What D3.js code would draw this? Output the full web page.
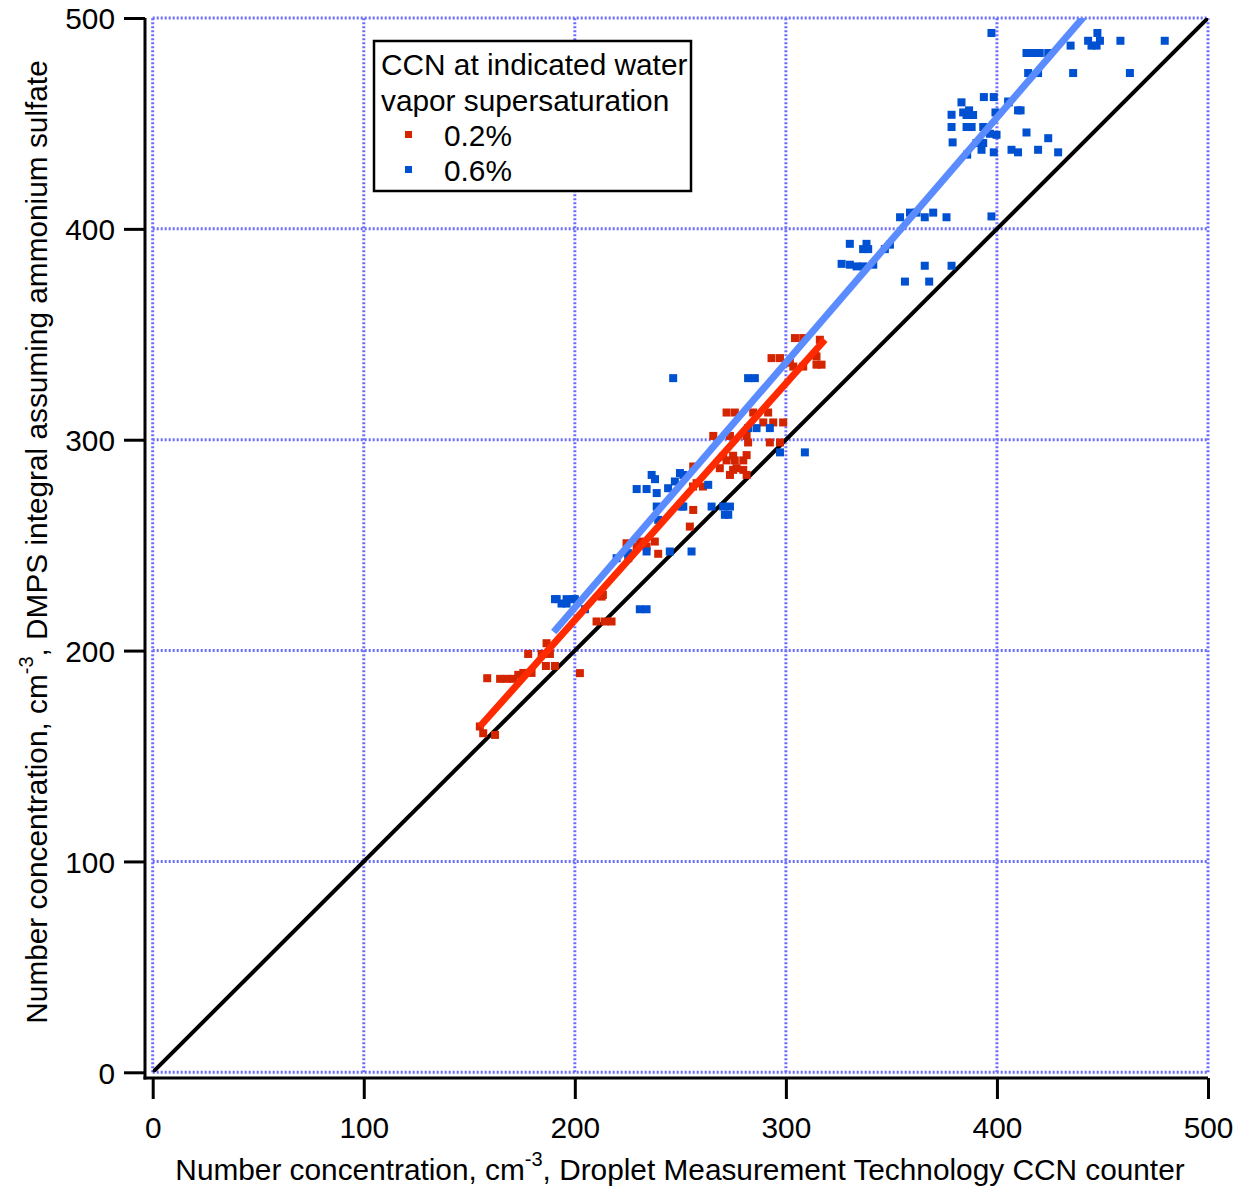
<!DOCTYPE html>
<html>
<head>
<meta charset="utf-8">
<script src="https://cdn.jsdelivr.net/npm/d3@7"></script>
<style>
    body { margin: 0; background: #fff; }
    svg text { font-family: "Liberation Sans", Arial, sans-serif; fill: #000; }
</style>
</head>
<body>
<div id="chart-area"><svg></svg></div>
<script>
const chartSize = { width: 1235, height: 1188 };
const plot = { left: 152.7, right: 1208, top: 18, bottom: 1072.3 };
const fontSize = 29.8;

const ticks = [0, 100, 200, 300, 400, 500];

// CCN at 0.2% supersaturation
const redX = [158.5, 164.6, 167.8, 170.8, 173.2, 175.6, 179.5, 177.9, 186.6, 184.3, 188.2, 186.3, 190.6,
    202.4, 155, 156.6, 162.2, 210.3, 214.3, 213.3, 212.7, 217.4, 224.5, 230.8, 237.9, 239.5, 229.3, 234,
    256.1, 256.1, 254.5, 257.7, 304.3, 308.2, 316.1, 293.2, 297.2, 301.9, 303.5, 308.2, 314.5, 316.9,
    313.7, 314.5, 271.9, 275.8, 284.5, 291.6, 289.3, 294, 298.7, 265.6, 273.5, 281.4, 282.1, 292.4,
    297.2, 270.3, 275, 281.4, 271.9, 275.8, 279.8, 268.7, 275, 279.8, 273.5, 281.4, 260.7, 256, 276.6];
const redY = [186.9, 186.6, 186.6, 186.6, 188.5, 189.4, 189.4, 198.4, 203.5, 198.4, 198.4, 192.7, 192.7,
    189.3, 164, 160.8, 160, 213.8, 213.8, 226.4, 225.6, 213.8, 250.9, 251.7, 251.7, 245.9, 249.3, 249.3,
    287.3, 266.7, 258.8, 279.4, 348.2, 348.2, 347.4, 338.7, 338.7, 336.5, 334.7, 334.7, 335.6, 335.6,
    340.3, 339.5, 312.9, 312.9, 312.9, 312.9, 308.2, 308.2, 308.2, 301.8, 301.8, 301.8, 298.7, 298.7,
    298.7, 292, 292.4, 292.7, 290.2, 290.2, 290.2, 286.5, 285.7, 285.7, 283.3, 283.3, 277.8, 277.8, 286.5];

// CCN at 0.6% supersaturation
const blueX = [190.6, 196.1, 199.3, 193.7, 196.1, 204.8, 191.4, 200, 230.8, 234, 219.8, 225.3, 225.3,
    234, 245, 255.3, 229.3, 234, 236.4, 238, 238.8, 244.2, 247.4, 251.4, 238.8, 239.5, 250.6, 246.6,
    282.1, 285.3, 282.1, 286.1, 292.4, 297.2, 309, 263.2, 251.4, 264.8, 270.3, 273.5, 271.1, 272.7,
    249.8, 354.1, 358.8, 361.9, 365.8, 369.8, 376.1, 330.3, 338.2, 336.6, 339, 346.9, 349.3, 326.4,
    330.3, 333.5, 336.6, 341.4, 365.8, 378.5, 356.4, 367.9, 393.8, 398.5, 383.2, 384, 386.8, 388.7,
    385.6, 378.5, 399.3, 405.6, 410, 411.2, 378.5, 385.6, 388, 393.5, 396.7, 399.8, 414, 424.3, 379,
    390.3, 393.5, 392.7, 385.9, 398.5, 406.9, 410, 419.5, 429, 447.6, 443.2, 448.8, 444.8, 447.2,
    458.5, 479.5, 434.9, 414, 417.2, 420.3, 424.3, 414.8, 419.5, 436.1, 463, 405.3, 397.4, 397.4];
const blueY = [224.4, 224.4, 224.4, 222.3, 222.3, 219.6, 224.4, 224.4, 219.6, 219.6, 243.8, 243.8, 246.2,
    247, 247, 247, 276.6, 276.6, 283.3, 281.3, 274.7, 277, 280.2, 283.3, 268.3, 262, 268.3, 329.2,
    329.2, 329.2, 305.5, 305.5, 305.5, 294, 294, 278.6, 268.3, 268.3, 268.3, 268.3, 264.4, 264.4,
    284.2, 405.5, 407.7, 407.7, 405.5, 407.7, 405.5, 392.9, 392.9, 390.4, 390.4, 390.4, 392.5, 383.4,
    383, 382.2, 382.2, 383, 382.5, 382.5, 375, 375, 462.5, 462.5, 460, 455.2, 456.2, 454,
    454, 454.1, 455.2, 460, 456.2, 456.2, 448.3, 448.3, 448.3, 448.3, 445.1, 444.6, 445.7, 443, 441,
    440.7, 440.7, 437.5, 435.2, 436.3, 437.5, 436.3, 437.5, 436.3, 492.9, 489.2, 489.2, 486.9, 486.9,
    489.2, 489.2, 486.9, 483.4, 483.4, 483.4, 483.4, 473.9, 473.9, 473.9, 473.9, 460.4, 492.9, 405.9];

// fitted lines and the 1:1 line (x, y pairs)
const redFitX = [155, 318.5];
const redFitY = [164, 347.4];
const blueFitX = [190, 480];
const blueFitY = [208.8, 545.7];
const oneToOneX = [0, 500];
const oneToOneY = [0, 500];

const legendTitle = ["CCN at indicated water", "vapor supersaturation"];
const legendLabels = ["0.2%", "0.6%"];

const col = {
    red: "#d42400", redLine: "#ff2a00",
    blue: "#0050d2", blueLine: "#5a8cff",
    grid: "#6c6cff"
};

const svg = d3.select("#chart-area svg")
    .attr("width", chartSize.width)
    .attr("height", chartSize.height);

const x = d3.scaleLinear().domain([0, 500]).range([plot.left, plot.right]);
const y = d3.scaleLinear().domain([0, 500]).range([plot.bottom, plot.top]);

svg.append("defs").append("clipPath").attr("id", "clip")
    .append("rect")
    .attr("x", plot.left).attr("y", plot.top)
    .attr("width", plot.right - plot.left).attr("height", plot.bottom - plot.top);

// grid
const grid = svg.append("g").attr("class", "grid");
grid.selectAll(".gx").data(ticks).enter().append("line")
    .attr("x1", d => x(d)).attr("x2", d => x(d))
    .attr("y1", y(0)).attr("y2", y(500));
grid.selectAll(".gy").data(ticks).enter().append("line")
    .attr("y1", d => y(d)).attr("y2", d => y(d))
    .attr("x1", x(0)).attr("x2", x(500));
grid.selectAll("line")
    .attr("stroke", col.grid)
    .attr("stroke-width", 3)
    .attr("stroke-dasharray", "2,2");

// axes, offset out from the plot area
const xAxis = d3.axisBottom(x).tickValues(ticks).tickSize(21).tickPadding(10).tickFormat(d3.format("d"));
const yAxis = d3.axisLeft(y).tickValues(ticks).tickSize(21).tickPadding(9).tickFormat(d3.format("d"));

const gx = svg.append("g")
    .attr("class", "x-axis")
    .attr("transform", `translate(0,${plot.bottom + 5.7})`)
    .call(xAxis);
const gy = svg.append("g")
    .attr("class", "y-axis")
    .attr("transform", `translate(${plot.left - 7.7},0)`)
    .call(yAxis);

[gx, gy].forEach(g => {
    g.select(".domain").remove();
    g.selectAll(".tick line").attr("stroke", "#000").attr("stroke-width", 3);
    g.selectAll(".tick text").attr("font-size", fontSize).attr("fill", "#000")
        .attr("font-family", "Liberation Sans, Arial, sans-serif");
});
gx.selectAll(".tick text").attr("dy", "0.98em");
gy.selectAll(".tick text").attr("dy", "0.36em");

svg.append("line")
    .attr("x1", plot.left - 9.2).attr("x2", plot.right)
    .attr("y1", plot.bottom + 5.7).attr("y2", plot.bottom + 5.7)
    .attr("stroke", "#000").attr("stroke-width", 3);
svg.append("line")
    .attr("x1", plot.left - 7.7).attr("x2", plot.left - 7.7)
    .attr("y1", plot.top).attr("y2", plot.bottom + 7.2)
    .attr("stroke", "#000").attr("stroke-width", 3);

// data layer
const g = svg.append("g").attr("clip-path", "url(#clip)");

const line = d3.line().x(d => x(d[0])).y(d => y(d[1]));

g.append("path")
    .attr("d", line(d3.zip(oneToOneX, oneToOneY)))
    .attr("stroke", "#000").attr("stroke-width", 4).attr("fill", "none");

const s = 8;
const drawPoints = (xs, ys, color) => {
    g.append("g").selectAll("rect")
        .data(d3.zip(xs, ys))
        .enter().append("rect")
        .attr("x", d => x(d[0]) - s / 2)
        .attr("y", d => y(d[1]) - s / 2)
        .attr("width", s).attr("height", s)
        .attr("fill", color);
};
drawPoints(redX, redY, col.red);
drawPoints(blueX, blueY, col.blue);

g.append("path")
    .attr("d", line(d3.zip(redFitX, redFitY)))
    .attr("stroke", col.redLine).attr("stroke-width", 7).attr("fill", "none");
g.append("path")
    .attr("d", line(d3.zip(blueFitX, blueFitY)))
    .attr("stroke", col.blueLine).attr("stroke-width", 7).attr("fill", "none");

// legend
const lg = svg.append("g").attr("class", "legend");
lg.append("rect")
    .attr("x", 374).attr("y", 41).attr("width", 317).attr("height", 150)
    .attr("fill", "#fff").attr("stroke", "#000").attr("stroke-width", 2.5);
lg.selectAll(".lt").data(legendTitle).enter().append("text")
    .attr("x", 381).attr("y", (d, i) => 75 + i * 36)
    .attr("font-size", fontSize)
    .text(d => d);
lg.selectAll(".lm").data(legendLabels).enter().append("rect")
    .attr("x", 405).attr("y", (d, i) => 131 + i * 35)
    .attr("width", 7).attr("height", 7)
    .attr("fill", (d, i) => i === 0 ? col.red : col.blue);
lg.selectAll(".ll").data(legendLabels).enter().append("text")
    .attr("x", 444).attr("y", (d, i) => 146 + i * 35)
    .attr("font-size", fontSize)
    .text(d => d);

// axis titles
const xt = svg.append("text")
    .attr("x", 680).attr("y", 1180)
    .attr("text-anchor", "middle")
    .attr("font-size", fontSize);
xt.append("tspan").text("Number concentration, cm");
xt.append("tspan").attr("dy", -14).attr("font-size", 20).text("-3");
xt.append("tspan").attr("dy", 14).text(", Droplet Measurement Technology CCN counter");

const yt = svg.append("text")
    .attr("transform", "translate(47,542) rotate(-90)")
    .attr("text-anchor", "middle")
    .attr("font-size", fontSize);
yt.append("tspan").text("Number concentration, cm");
yt.append("tspan").attr("dy", -14).attr("font-size", 20).text("-3");
yt.append("tspan").attr("dy", 14).text(", DMPS integral assuming ammonium sulfate");
</script>
</body>
</html>
